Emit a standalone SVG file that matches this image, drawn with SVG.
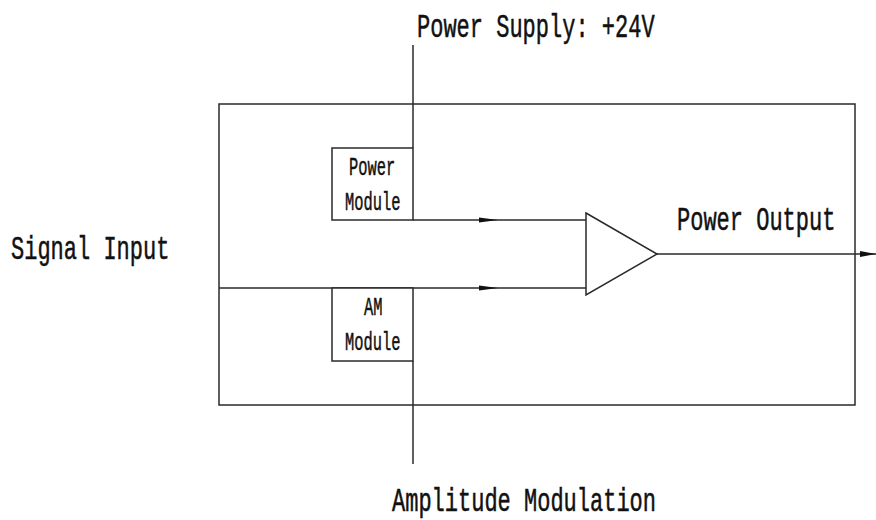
<svg xmlns="http://www.w3.org/2000/svg" width="876" height="520" viewBox="0 0 876 520">
  <style>
    .ln { fill: none; stroke: #2a2a2a; stroke-width: 1.5; }
    .box { fill: #ffffff; stroke: #2a2a2a; stroke-width: 1.5; }
    .big { font-family: "Liberation Mono", "DejaVu Sans Mono", monospace; font-size: 22px; fill: #111; stroke: #111; stroke-width: 0.35; }
    .small { font-family: "Liberation Mono", "DejaVu Sans Mono", monospace; font-size: 15.4px; fill: #111; stroke: #111; stroke-width: 0.3; }
  </style>
  <defs>
    <marker id="arrMid" markerUnits="userSpaceOnUse" viewBox="0 0 19 6" refX="19" refY="3" markerWidth="19" markerHeight="6" orient="auto">
      <path d="M0,0.5 L19,3 L0,5.5 Z" fill="#111"/>
    </marker>
    <marker id="arrEnd" markerUnits="userSpaceOnUse" viewBox="0 0 16 7" refX="16" refY="3.5" markerWidth="16" markerHeight="7" orient="auto">
      <path d="M0,0.5 L16,3.5 L0,6.5 Z" fill="#111"/>
    </marker>
  </defs>
  <rect width="876" height="520" fill="#ffffff"/>

  <g id="system-box">
    <rect class="box" x="219" y="104" width="636" height="301"/>
  </g>

  <g id="connectors">
    <path class="ln" d="M413,45 L413,148"/>
    <path class="ln" d="M413,220 L498,220 L586,220" marker-mid="url(#arrMid)"/>
    <path class="ln" d="M219,288 L498,288 L586,288" marker-mid="url(#arrMid)"/>
    <path class="ln" d="M413,361 L413,464"/>
    <path class="ln" d="M657,254 L876,254" marker-end="url(#arrEnd)"/>
  </g>

  <g id="power-module">
    <rect class="box" x="332" y="148" width="81" height="72"/>
    <text class="small" transform="translate(349,175) scale(1,1.65)">Power</text>
    <text class="small" transform="translate(345,210) scale(1,1.65)">Module</text>
  </g>

  <g id="am-module">
    <rect class="box" x="332" y="288" width="81" height="73"/>
    <text class="small" transform="translate(364,315) scale(1,1.65)">AM</text>
    <text class="small" transform="translate(345,350) scale(1,1.65)">Module</text>
  </g>

  <g id="amplifier">
    <polygon class="box" points="586,213 657,254 586,295"/>
  </g>

  <g id="label-power-supply">
    <text class="big" transform="translate(417,37) scale(1,1.55)">Power Supply: +24V</text>
  </g>
  <g id="label-signal-input">
    <text class="big" transform="translate(11,259) scale(1,1.55)">Signal Input</text>
  </g>
  <g id="label-power-output">
    <text class="big" transform="translate(677,230) scale(1,1.55)">Power Output</text>
  </g>
  <g id="label-amplitude-modulation">
    <text class="big" transform="translate(392,511) scale(1,1.55)">Amplitude Modulation</text>
  </g>
</svg>
